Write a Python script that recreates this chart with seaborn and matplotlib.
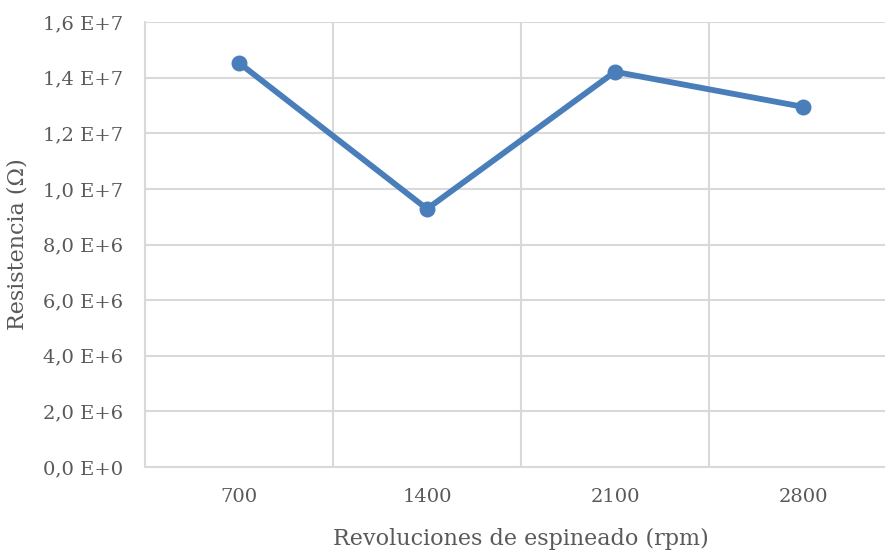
import numpy as np
import pandas as pd
import matplotlib
matplotlib.use("Agg")
import matplotlib.pyplot as plt
from matplotlib.ticker import FuncFormatter, FixedLocator
import seaborn as sns

rpm = ["700", "1400", "2100", "2800"]
resistencia = [1.453e7, 9.28e6, 1.421e7, 1.295e7]
y_ticks = [0, 2e6, 4e6, 6e6, 8e6, 1e7, 1.2e7, 1.4e7, 1.6e7]

sns.set_theme(style="white")
plt.rcParams["font.family"] = ["DejaVu Serif", "Liberation Serif"]

df = pd.DataFrame({"rpm": rpm, "res": resistencia})

fig = plt.figure(figsize=(8.85, 5.5), dpi=100)
ax = fig.add_axes([145 / 885, (550 - 467) / 550, (897 - 145) / 885, (467 - 22) / 550])

grid_c = "#d9d9d9"
text_c = "#595959"
line_c = "#4a7ebb"

sns.lineplot(data=df, x="rpm", y="res", ax=ax, color=line_c, linewidth=4.2,
             marker="o", markersize=11.5, markeredgewidth=0, sort=False, zorder=5)

ax.set_xlim(-0.5, len(rpm) - 0.5)
ax.set_ylim(0, 1.6e7)
ax.yaxis.set_major_locator(FixedLocator(y_ticks))

def fmt(v, pos):
    if v == 0:
        return "0,0 E+0"
    e = int(np.floor(np.log10(abs(v)) + 1e-9))
    m = v / 10 ** e
    return f"{m:.1f}".replace(".", ",") + f" E+{e}"

ax.yaxis.set_major_formatter(FuncFormatter(fmt))
ax.set_xticks(range(len(rpm)))
ax.set_xticklabels(rpm)
ax.xaxis.set_minor_locator(FixedLocator([i + 0.5 for i in range(-1, len(rpm))]))

ax.grid(True, axis="y", which="major", color=grid_c, linewidth=1.5)
ax.grid(True, axis="x", which="minor", color=grid_c, linewidth=1.5)
ax.grid(False, axis="x", which="major")
ax.set_axisbelow(True)

for s in ["top", "right"]:
    ax.spines[s].set_visible(False)
for s in ["left", "bottom"]:
    ax.spines[s].set_color(grid_c)
    ax.spines[s].set_linewidth(1.5)

ax.tick_params(axis="both", which="both", length=0, left=False, bottom=False,
               labelsize=14, colors=text_c)
ax.tick_params(axis="y", pad=16)
ax.tick_params(axis="x", pad=15)
ax.set_xlabel("Revoluciones de espineado (rpm)", fontsize=16, color=text_c, labelpad=16)
ax.set_ylabel("Resistencia (Ω)", fontsize=16, color=text_c, labelpad=10)

fig.savefig("out.png", dpi=100)
